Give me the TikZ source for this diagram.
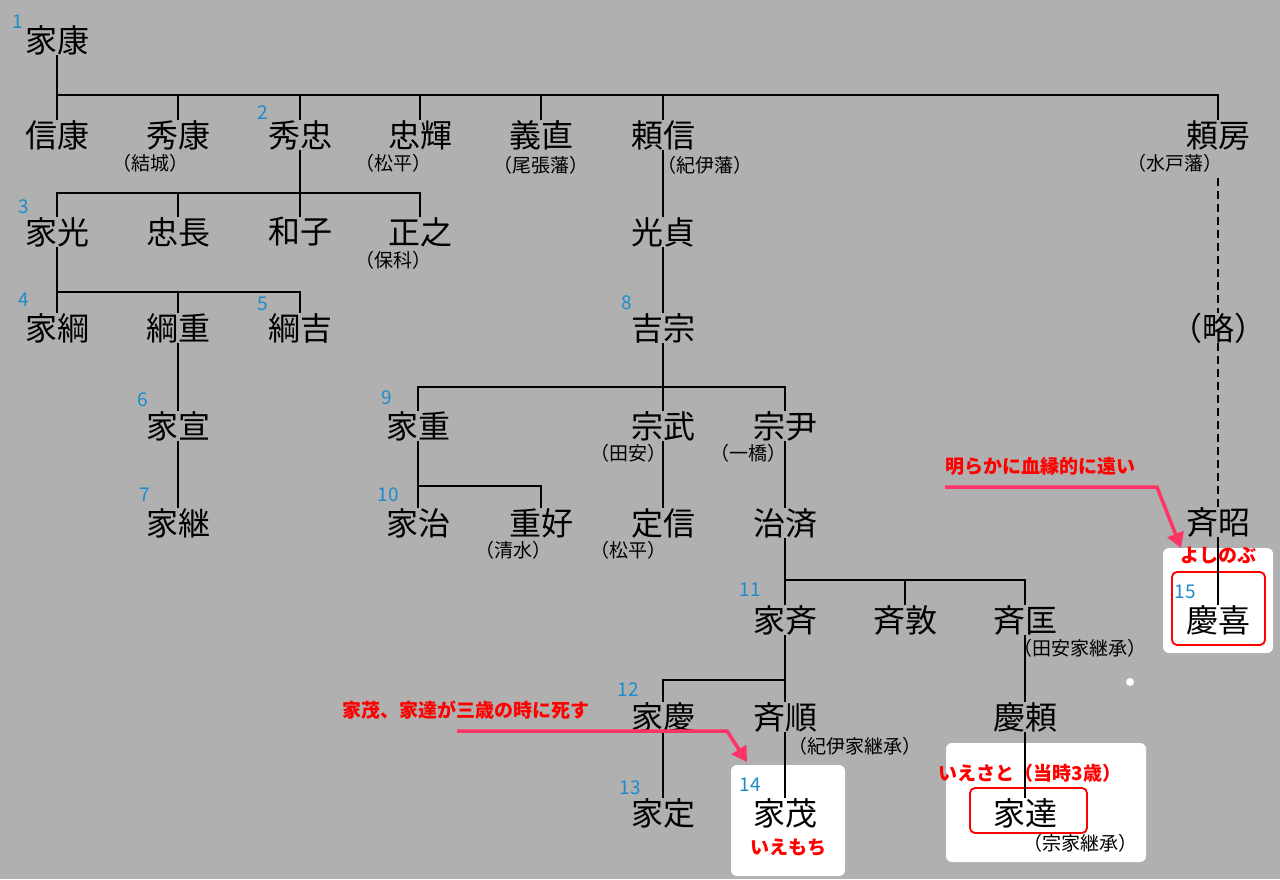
\documentclass[tikz,border=0pt]{standalone}
\usepackage{fontspec}
\setmainfont{Noto Sans CJK JP}
\usetikzlibrary{arrows.meta}
\definecolor{bg}{HTML}{B0B0B0}
\definecolor{numc}{HTML}{1C8CCB}
\definecolor{arr}{HTML}{FF3366}
\begin{document}
\begin{tikzpicture}[x=1pt,y=-1pt,
 nm/.style={font=\fontsize{32}{32}\selectfont, inner sep=0pt},
 sb/.style={font=\fontsize{19}{19}\selectfont, inner sep=0pt},
 num/.style={font=\fontsize{19}{19}\selectfont, text=numc, inner sep=0pt},
 red/.style={font=\bfseries\fontsize{19}{19}\selectfont, text=red, inner sep=0pt},
 ln/.style={line width=2.2pt},
 rbox/.style={draw=red, line width=1.8pt, rounded corners=5pt},
 ar/.style={draw=arr, line width=3.5pt, -{Triangle[length=15pt,width=17pt]}}]
\fill[bg] (0,0) rectangle (1280,879);
\useasboundingbox (0,0) rectangle (1280,879);
% white boxes
\fill[white,rounded corners=6pt] (731,765) rectangle (845,876);
\fill[white,rounded corners=6pt] (946,743) rectangle (1146,862);
\fill[white,rounded corners=6pt] (1163,548) rectangle (1273,653);
\fill[white] (1130,682) circle (4);
\draw[rbox] (970,788) rectangle (1087,833);
\draw[rbox] (1172,572) rectangle (1265,645);
% names
\node[nm] (ieyasu) at (57,40) {家康};
\node[nm] (nobuyasu) at (57,135) {信康};
\node[nm] (hideyasu) at (178,135) {秀康};
\node[nm] (hidetada) at (300,135) {秀忠};
\node[nm] (tadateru) at (420,135) {忠輝};
\node[nm] (yoshinao) at (541,135) {義直};
\node[nm] (yorinobu) at (663,135) {頼信};
\node[nm] (yorifusa) at (1218,135) {頼房};
\node[nm] (iemitsu) at (57,232) {家光};
\node[nm] (tadanaga) at (178,232) {忠長};
\node[nm] (kazuko) at (300,232) {和子};
\node[nm] (masayuki) at (420,232) {正之};
\node[nm] (mitsusada) at (663,232) {光貞};
\node[nm] (ryaku) at (1218,328) {（略）};
\node[nm] (ietsuna) at (57,328) {家綱};
\node[nm] (tsunashige) at (178,328) {綱重};
\node[nm] (tsunayoshi) at (300,328) {綱吉};
\node[nm] (yoshimune) at (663,328) {吉宗};
\node[nm] (ienobu) at (178,426) {家宣};
\node[nm] (ieshige) at (418,426) {家重};
\node[nm] (munetake) at (663,426) {宗武};
\node[nm] (munetada) at (785,426) {宗尹};
\node[nm] (ietsugu) at (178,523) {家継};
\node[nm] (ieharu) at (418,523) {家治};
\node[nm] (shigeyoshi) at (541,523) {重好};
\node[nm] (sadanobu) at (663,523) {定信};
\node[nm] (harusada) at (785,523) {治済};
\node[nm] (nariaki) at (1218,522) {斉昭};
\node[nm] (ienari) at (785,620) {家斉};
\node[nm] (naritoshi) at (905,620) {斉敦};
\node[nm] (narimasa) at (1025,620) {斉匡};
\node[nm] (yoshinobu) at (1218,620) {慶喜};
\node[nm] (ieyoshi) at (663,717) {家慶};
\node[nm] (narimichi) at (785,717) {斉順};
\node[nm] (yoshiyori) at (1025,717) {慶頼};
\node[nm] (iesada) at (663,813) {家定};
\node[nm] (iemochi) at (785,813) {家茂};
\node[nm] (iesato) at (1025,813) {家達};
% subtitles
\node[sb] at (150,163) {（結城）};
\node[sb] at (393,163) {（松平）};
\node[sb] at (541,165) {（尾張藩）};
\node[sb] at (705,165) {（紀伊藩）};
\node[sb] at (1175,163) {（水戸藩）};
\node[sb] at (393,260) {（保科）};
\node[sb] at (628,453) {（田安）};
\node[sb] at (748,453) {（一橋）};
\node[sb] at (513,550) {（清水）};
\node[sb] at (628,550) {（松平）};
\node[sb] at (1080,648) {（田安家継承）};
\node[sb] at (855,746) {（紀伊家継承）};
\node[sb] at (1080,843) {（宗家継承）};
% numbers
\node[num] at (18,22) {1};
\node[num] at (263,113) {2};
\node[num] at (24,207) {3};
\node[num] at (24,300) {4};
\node[num] at (263,304) {5};
\node[num] at (143,400) {6};
\node[num] at (145,495) {7};
\node[num] at (627,303) {8};
\node[num] at (387,398) {9};
\node[num] at (388,495) {10};
\node[num] at (750,590) {11};
\node[num] at (628,690) {12};
\node[num] at (630,788) {13};
\node[num] at (750,785) {14};
\node[num] at (1185,592) {15};
% red labels
\node[red] at (788,848) {いえもち};
\node[red] at (1030,773) {いえさと（当時3歳）};
\node[red] at (1218,555) {よしのぶ};
\node[red] at (1040,466) {明らかに血縁的に遠い};
\node[red] at (466,710) {家茂、家達が三歳の時に死す};
% connectors
\coordinate (b1) at (0,95);
\draw[ln] (ieyasu) -- (ieyasu |- b1);
\draw[ln] (nobuyasu) -- (nobuyasu |- b1) -- (yorifusa |- b1) -- (yorifusa);
\foreach \n in {hideyasu,hidetada,tadateru,yoshinao,yorinobu} \draw[ln] (\n) -- (\n |- b1);
\coordinate (b2) at (0,193);
\draw[ln] (hidetada) -- (hidetada |- b2);
\draw[ln] (iemitsu) -- (iemitsu |- b2) -- (masayuki |- b2) -- (masayuki);
\foreach \n in {tadanaga,kazuko} \draw[ln] (\n) -- (\n |- b2);
\coordinate (b3) at (0,292);
\draw[ln] (iemitsu) -- (ietsuna);
\draw[ln] (ietsuna |- b3) -- (tsunayoshi |- b3) -- (tsunayoshi);
\draw[ln] (tsunashige) -- (tsunashige |- b3);
\draw[ln] (tsunashige) -- (ienobu);
\draw[ln] (ienobu) -- (ietsugu);
\draw[ln] (yorinobu) -- (mitsusada);
\draw[ln] (mitsusada) -- (yoshimune);
\coordinate (b4) at (0,387);
\draw[ln] (yoshimune) -- (munetake);
\draw[ln] (ieshige) -- (ieshige |- b4) -- (munetada |- b4) -- (munetada);
\coordinate (b5) at (0,486);
\draw[ln] (ieshige) -- (ieharu);
\draw[ln] (ieshige |- b5) -- (shigeyoshi |- b5) -- (shigeyoshi);
\draw[ln] (munetake) -- (sadanobu);
\draw[ln] (munetada) -- (harusada);
\coordinate (b6) at (0,580);
\draw[ln] (harusada) -- (ienari);
\draw[ln] (harusada |- b6) -- (narimasa |- b6) -- (narimasa);
\draw[ln] (naritoshi) -- (naritoshi |- b6);
\coordinate (b7) at (0,680);
\draw[ln] (ienari) -- (narimichi);
\draw[ln] (ieyoshi) -- (ieyoshi |- b7) -- (ienari |- b7);
\draw[ln] (ieyoshi) -- (iesada);
\draw[ln] (narimichi) -- (iemochi);
\draw[ln] (narimasa) -- (yoshiyori);
\draw[ln] (yoshiyori) -- (iesato);
\draw[line width=1.2pt, dash pattern=on 8pt off 5pt] (1218,178) -- (ryaku);
\draw[line width=1.2pt, dash pattern=on 8pt off 5pt] (ryaku) -- (nariaki);
\draw[ln] (nariaki) -- (yoshinobu);
% arrows
\coordinate (a1s) at (945,487); \coordinate (a1m) at (1157,487); \coordinate (a1e) at (1181,548);
\draw[ar] (a1s) -- (a1m) -- (a1e);
\coordinate (a2s) at (457,731); \coordinate (a2m) at (727,731); \coordinate (a2e) at (747,762);
\draw[ar] (a2s) -- (a2m) -- (a2e);
\end{tikzpicture}
\end{document}
